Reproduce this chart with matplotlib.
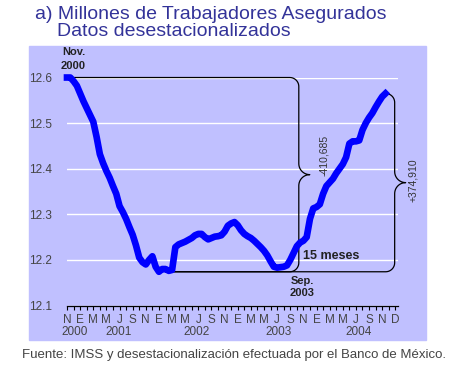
import numpy as np
import matplotlib
matplotlib.use('Agg')
import matplotlib.pyplot as plt
from matplotlib.patches import Rectangle

plt.rcParams['font.family'] = ['Liberation Sans', 'DejaVu Sans']

# trabajadores asegurados (millones), semi-monthly readings from Nov 2000 to Nov 2004
asegurados = [
    12.600, 12.600, 12.592, 12.582, 12.565, 12.548, 12.533, 12.518, 12.503, 12.470,
    12.432, 12.412, 12.395, 12.380, 12.362, 12.345, 12.318, 12.305, 12.290, 12.272,
    12.255, 12.232, 12.205, 12.195, 12.190, 12.200, 12.208, 12.185, 12.174, 12.180,
    12.180, 12.176, 12.178, 12.228, 12.234, 12.237, 12.240, 12.244, 12.248, 12.254,
    12.257, 12.257, 12.250, 12.245, 12.248, 12.251, 12.252, 12.254, 12.262, 12.275,
    12.280, 12.283, 12.276, 12.265, 12.257, 12.252, 12.248, 12.242, 12.235, 12.228,
    12.220, 12.210, 12.197, 12.185, 12.183, 12.184, 12.185, 12.188, 12.200, 12.215,
    12.230, 12.238, 12.242, 12.250, 12.290, 12.313, 12.316, 12.322, 12.345, 12.362,
    12.370, 12.378, 12.390, 12.400, 12.410, 12.425, 12.455, 12.460, 12.460, 12.462,
    12.485, 12.500, 12.512, 12.522, 12.535, 12.547, 12.558, 12.565,
]
mes_letras = ['N', 'E', 'M', 'M', 'J', 'S'] * 4 + ['N', 'D']
anios = ['2000', '2001', '2002', '2003', '2004']
anio_pos = [1.2, 7.8, 19.8, 32.2, 44.4]
y_ticks = [12.1, 12.2, 12.3, 12.4, 12.5, 12.6]
caida = '-410,685'
alza = '+374,910'

meses = np.arange(len(asegurados)) / 2.0
vals = np.array(asegurados)

fig = plt.figure(figsize=(4.59, 3.70), dpi=100)
fig.patches.append(Rectangle((0.063, 0.081), 0.865, 0.795, transform=fig.transFigure,
                             color='#C0C0FF', zorder=-5))

ax = fig.add_axes([0.146, 0.1743, 0.721, 0.6162])
ax.set_facecolor('none')
ax.set_xlim(0, 50.4)
ax.set_ylim(12.1, 12.6)

for s in ['left', 'right', 'top']:
    ax.spines[s].set_visible(False)
ax.spines['bottom'].set_color('black')
ax.spines['bottom'].set_linewidth(0.9)

ax.set_yticks(y_ticks)
ax.set_yticklabels([f'{v:.1f}' for v in y_ticks], color='#444444', fontsize=8.5)
ax.tick_params(axis='y', length=0, pad=11)
ax.yaxis.grid(True, color='white', lw=1)
ax.set_axisbelow(True)

ax.set_xticks(np.arange(0, 51, 2))
ax.set_xticklabels(mes_letras, color='#444444', fontsize=8.5)
ax.set_xticks(np.arange(1, 50, 2), minor=True)
ax.tick_params(axis='x', which='both', length=3, width=0.8, color='black', pad=3)

for lbl, p in zip(anios, anio_pos):
    ax.text(p, -0.118, lbl, transform=ax.get_xaxis_transform(), ha='center', va='center',
            color='#444444', fontsize=8.5)

ax.plot(meses, vals, color='#0000FF', lw=4.8, clip_on=False, zorder=3)

# braces (drawn in pixel units, converted to data units)
sx = ax.bbox.width / 50.4
sy = ax.bbox.height / 0.5


def llave(xv, y_top, y_bot, x_top_end, x_bot_end, r=9, rt=11):
    rx, ry = r / sx, r / sy
    tx, ty = rt / sx, rt / sy
    ymid = (y_top + y_bot) / 2
    xs, ys = [x_top_end], [y_top]
    a = np.linspace(np.pi / 2, 0, 12)
    xs += list(xv - rx + rx * np.cos(a)); ys += list(y_top - ry + ry * np.sin(a))
    a = np.linspace(np.pi, 3 * np.pi / 2, 12)
    xs += list(xv + tx + tx * np.cos(a)); ys += list(ymid + ty + ty * np.sin(a))
    a = np.linspace(np.pi / 2, np.pi, 12)
    xs += list(xv + tx + tx * np.cos(a)); ys += list(ymid - ty + ty * np.sin(a))
    a = np.linspace(0, -np.pi / 2, 12)
    xs += list(xv - rx + rx * np.cos(a)); ys += list(y_bot + ry + ry * np.sin(a))
    xs.append(x_bot_end); ys.append(y_bot)
    ax.plot(xs, ys, color='black', lw=0.9, clip_on=False, zorder=2)


i_min = int(np.argmin(vals))
llave(35.3, vals[0], vals.min(), meses[0], meses[i_min] + 1)
llave(49.9, vals[-1], vals.min(), meses[-1], meses[i_min] + 1)

ax.text(39.1, 12.43, caida, rotation=90, ha='center', va='center', fontsize=7.5, color='#333333')
ax.text(52.7, 12.375, alza, rotation=90, ha='center', va='center', fontsize=7.5, color='#333333',
        clip_on=False)

ax.annotate('Nov.\n2000', xy=(meses[0], vals[0]), xytext=(1.0, 12.64), ha='center', va='center',
            fontsize=8, fontweight='bold', color='#222222', linespacing=1.5, annotation_clip=False)
ax.annotate('Sep.\n2003', xy=(meses[i_min], vals[i_min]), xytext=(35.8, 12.14), ha='center',
            va='center', fontsize=8, fontweight='bold', color='#222222', linespacing=1.3)
ax.text(36.0, 12.208, '15 meses', ha='left', va='center', fontsize=9, fontweight='bold',
        color='#222222')

fig.text(0.076, 0.962, 'a) Millones de Trabajadores Asegurados', fontsize=14, color='#333399',
         va='center')
fig.text(0.124, 0.915, 'Datos desestacionalizados', fontsize=14, color='#333399', va='center')
fig.text(0.048, 0.04, 'Fuente: IMSS y desestacionalización efectuada por el Banco de México.',
         fontsize=9.5, color='#444444', va='center')

fig.savefig('out.png', dpi=100)
